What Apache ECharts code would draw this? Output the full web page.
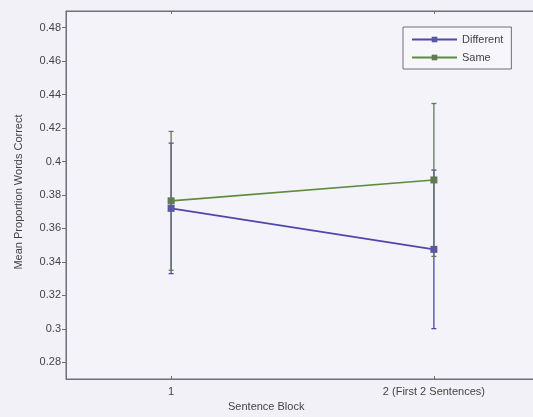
<!DOCTYPE html>
<html>
<head>
<meta charset="utf-8">
<script src="https://cdn.jsdelivr.net/npm/echarts@6/dist/echarts.min.js"></script>
<style>
html,body{margin:0;padding:0;background:#f2f1f8;}
#chart{width:533px;height:417px;}
</style>
</head>
<body>
<div id="chart"></div>
<script>
// ---- data ----
const xPositions = [1, 2];
const xTickLabels = ['1', '2 (First 2 Sentences)'];
const seriesNames = ['Different', 'Same'];
const differentMean = [0.372, 0.3475];
const differentErr = [0.039, 0.0474];
const sameMean = [0.3765, 0.389];
const sameErr = [0.0415, 0.0457];
const yTicks = [0.28, 0.30, 0.32, 0.34, 0.36, 0.38, 0.40, 0.42, 0.44, 0.46, 0.48];
const yTickLabels = ['0.28', '0.3', '0.32', '0.34', '0.36', '0.38', '0.4', '0.42', '0.44', '0.46', '0.48'];

const colDiff = '#5047a8';
const colSame = '#5e8c3c';
const FONT = '"Liberation Sans", Arial, sans-serif';

function pts(mean) { return mean.map((m, i) => [xPositions[i], m]); }
function errData(mean, err) { return mean.map((m, i) => [xPositions[i], m - err[i], m + err[i]]); }

function errRender(color) {
  return function (params, api) {
    const x = api.value(0);
    const lo = api.coord([x, api.value(1)]);
    const hi = api.coord([x, api.value(2)]);
    const cw = 2.5;
    const style = { stroke: color, lineWidth: 1.3 };
    return {
      type: 'group',
      children: [
        { type: 'line', shape: { x1: lo[0], y1: lo[1], x2: hi[0], y2: hi[1] }, style: style },
        { type: 'line', shape: { x1: lo[0] - cw, y1: lo[1], x2: lo[0] + cw, y2: lo[1] }, style: style },
        { type: 'line', shape: { x1: hi[0] - cw, y1: hi[1], x2: hi[0] + cw, y2: hi[1] }, style: style }
      ]
    };
  };
}

const chart = echarts.init(document.getElementById('chart'), null, { renderer: 'canvas' });
chart.setOption({
  backgroundColor: '#f2f1f8',
  animation: false,
  textStyle: { fontFamily: FONT },
  grid: { left: 66, top: 11, width: 473, height: 368, outerBoundsMode: 'none', containLabel: false, show: true, borderColor: '#6f6f78', borderWidth: 1, backgroundColor: '#f4f3fa' },
  legend: {
    data: seriesNames,
    orient: 'vertical',
    left: 403, top: 27,
    padding: [7, 8, 6, 8],
    itemGap: 7,
    itemWidth: 45, itemHeight: 7,
    borderColor: '#6f6f78', borderWidth: 1,
    backgroundColor: '#f7f6fb',
    textStyle: { fontFamily: FONT, fontSize: 11, color: '#444' }
  },
  xAxis: [{
    type: 'value', min: 0.6, max: 2.4,
    splitLine: { show: false },
    axisLine: { show: true, lineStyle: { color: '#6f6f78' } },
    axisTick: { show: true, inside: true, length: 3, customValues: xPositions, lineStyle: { color: '#6f6f78' } },
    axisLabel: {
      customValues: xPositions, margin: 7, fontSize: 11, color: '#444', fontFamily: FONT,
      formatter: v => xTickLabels[xPositions.indexOf(v)] ?? ''
    }
  }, {
    type: 'value', position: 'top', min: 0.6, max: 2.4,
    splitLine: { show: false },
    axisLine: { show: true, lineStyle: { color: '#6f6f78' } },
    axisTick: { show: true, inside: true, length: 3, customValues: xPositions, lineStyle: { color: '#6f6f78' } },
    axisLabel: { show: false }
  }],
  yAxis: {
    type: 'value', min: 0.27, max: 0.49,
    splitLine: { show: false },
    axisLine: { show: true, lineStyle: { color: '#6f6f78' } },
    axisTick: { show: true, inside: false, length: 4, customValues: yTicks, lineStyle: { color: '#6f6f78' } },
    axisLabel: {
      customValues: yTicks, margin: 5, fontSize: 11, color: '#444', fontFamily: FONT,
      formatter: v => { const i = yTicks.findIndex(t => Math.abs(t - v) < 1e-9); return i >= 0 ? yTickLabels[i] : ''; }
    }
  },
  graphic: [
    { type: 'text', left: 228, top: 401, style: { text: 'Sentence Block', font: '11px ' + FONT, fill: '#444' } },
    { type: 'text', x: 19, y: 192, rotation: Math.PI / 2, style: { text: 'Mean Proportion Words Correct', font: '11px ' + FONT, fill: '#444', align: 'center', verticalAlign: 'middle' } }
  ],
  series: [
    { name: 'Different', type: 'line', data: pts(differentMean), color: colDiff, lineStyle: { width: 1.6, color: colDiff }, symbol: 'rect', symbolSize: 7, itemStyle: { color: '#5a58a0' }, z: 3 },
    { name: 'Same', type: 'line', data: pts(sameMean), color: colSame, lineStyle: { width: 1.6, color: colSame }, symbol: 'rect', symbolSize: 7, itemStyle: { color: '#5f7a55' }, z: 4 },
    { name: 'Different error', type: 'custom', renderItem: errRender(colDiff), data: errData(differentMean, differentErr), z: 2, silent: true },
    { name: 'Same error', type: 'custom', renderItem: errRender('#66785c'), data: errData(sameMean, sameErr), z: 2, silent: true }
  ]
});
</script>
</body>
</html>
